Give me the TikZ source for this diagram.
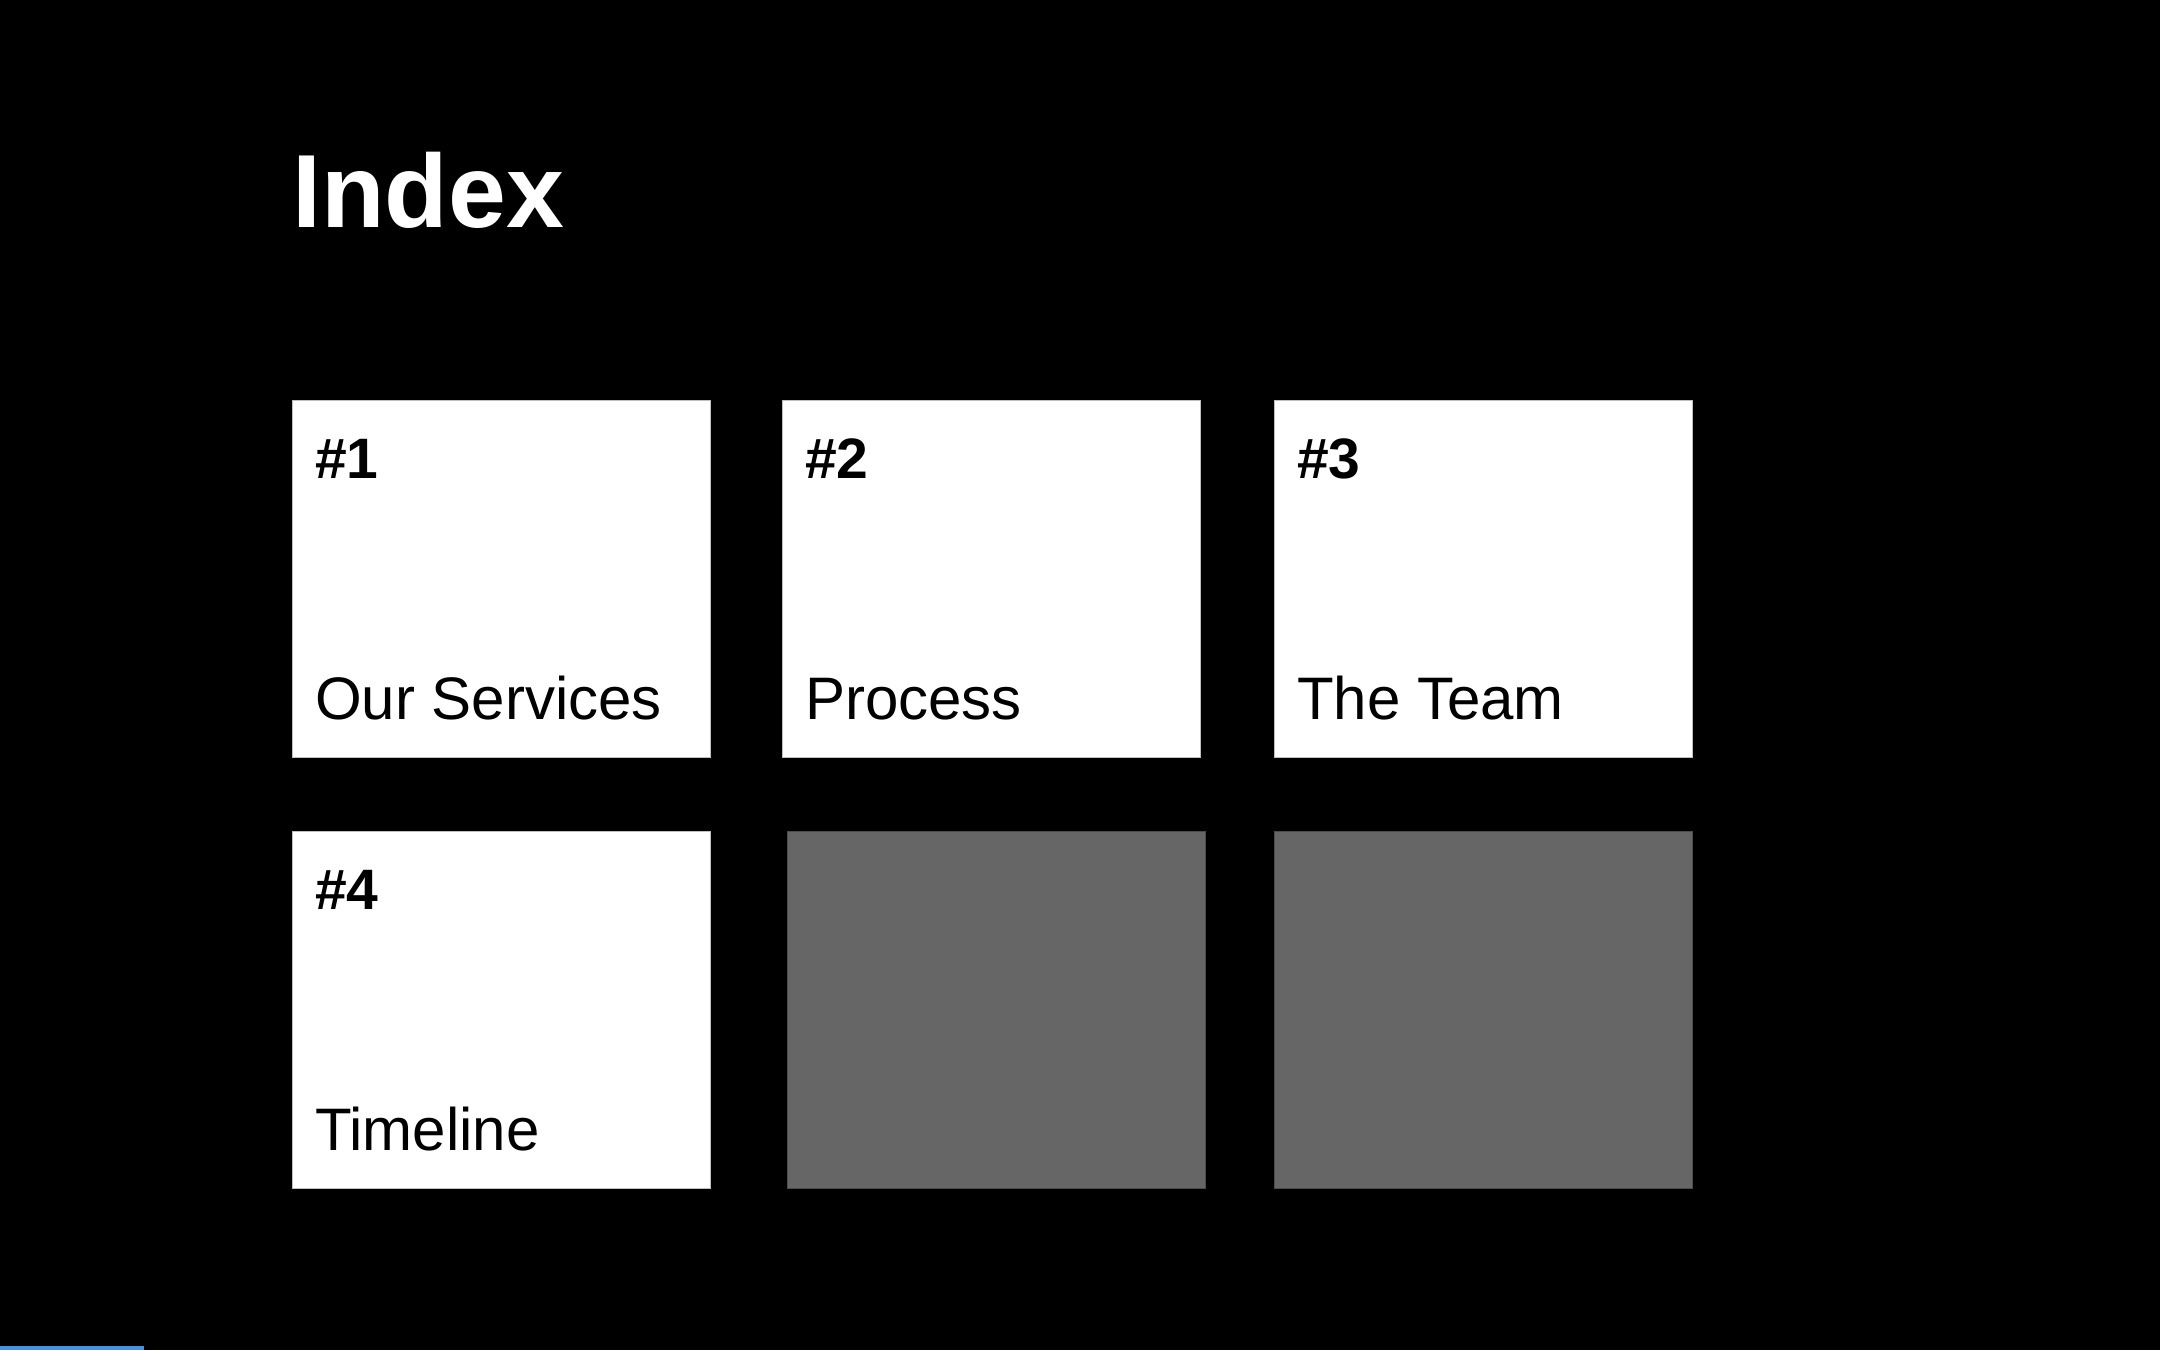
\documentclass[tikz,border=0pt]{standalone}
\usepackage{fontspec}
\setmainfont{Liberation Sans}
\usetikzlibrary{calc, positioning}
\definecolor{slidebar}{RGB}{74,144,226}
\definecolor{blankgray}{RGB}{102,102,102}
\tikzset{
    card/.style={rectangle, draw=gray!50, line width=1pt, fill=white, minimum width=418pt, minimum height=357pt, inner sep=0pt, anchor=north west},
    blank/.style={card, fill=blankgray, draw=black!70},
    numtag/.style={anchor=base west, inner sep=0pt, font=\fontsize{57}{57}\selectfont\bfseries},
    cardtitle/.style={anchor=base west, inner sep=0pt, font=\fontsize{60}{60}\selectfont},
    heading/.style={anchor=base west, inner sep=0pt, text=white, font=\fontsize{104}{104}\selectfont\bfseries}
}

\begin{document}
\begin{tikzpicture}[x=1pt, y=-1pt]
        	% Nền
        	\fill[black] (0,0) rectangle (2160,1350);
        	\useasboundingbox (0,0) rectangle (2160,1350);
        	
        	\node (title) [heading] at (292,227) {Index};
        	
        	\node (c1) [card] at (292,400) {};
        	\node (c2) [card] at (782,400) {};
        	\node (c3) [card] at (1274,400) {};
        	\node (c4) [card] at (292,831) {};
        	\node (g5) [blank] at (787,831) {};
        	\node (g6) [blank] at (1274,831) {};
        	
        	\node (n1) [numtag] at ($(c1.north west)+(23,78)$) {\#1};
        	\node (n2) [numtag] at ($(c2.north west)+(23,78)$) {\#2};
        	\node (n3) [numtag] at ($(c3.north west)+(23,78)$) {\#3};
        	\node (n4) [numtag] at ($(c4.north west)+(23,78)$) {\#4};
        	
        	\node (t1) [cardtitle] at ($(c1.south west)+(23,-39)$) {Our Services};
        	\node (t2) [cardtitle] at ($(c2.south west)+(23,-39)$) {Process};
        	\node (t3) [cardtitle] at ($(c3.south west)+(23,-39)$) {The Team};
        	\node (t4) [cardtitle] at ($(c4.south west)+(23,-39)$) {Timeline};
        	
        	% Thanh tiến độ
        	\fill[slidebar] (0,1346) rectangle (144,1350);
        \end{tikzpicture}
\end{document}
